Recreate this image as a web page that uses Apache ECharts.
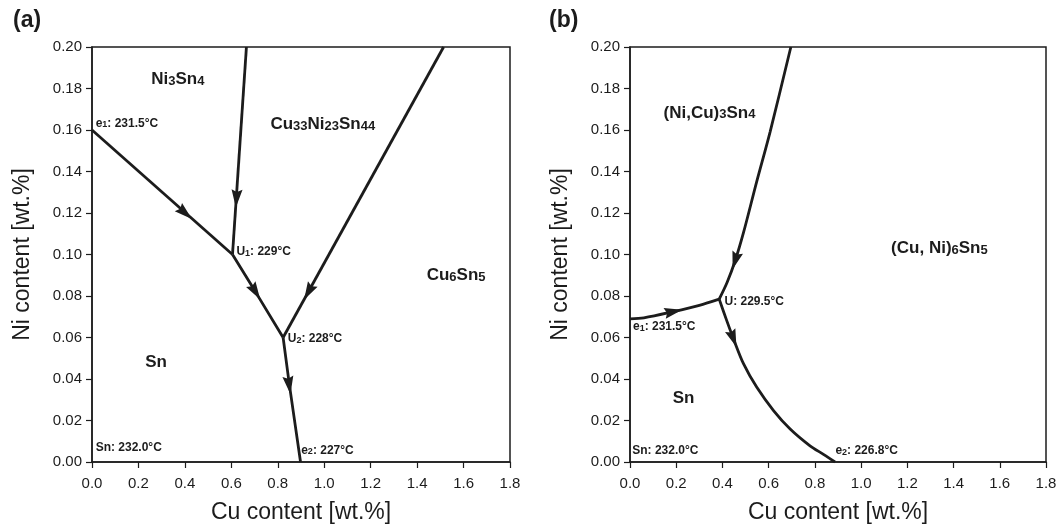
<!DOCTYPE html>
<html><head><meta charset="utf-8">
<script src="https://cdn.jsdelivr.net/npm/echarts@6/dist/echarts.min.js"></script>
<style>html,body{margin:0;padding:0;background:#fff}#c{width:1064px;height:529px}</style>
</head><body><div id="c"></div>
<script>
// ---------- data: panel (a) (x = Cu wt.%, y = Ni wt.%) ----------
const a_e1_U1  = [[0, 0.160], [0.605, 0.100]];
const a_top_U1 = [[0.665, 0.200], [0.605, 0.100]];
const a_U1_U2  = [[0.605, 0.100], [0.704, 0.082], [0.823, 0.060]];
const a_top_U2 = [[1.514, 0.200], [0.823, 0.060]];
const a_U2_e2  = [[0.823, 0.060], [0.849, 0.038], [0.898, 0.000]];
const a_arrows = [[0.401, 0.120], [0.622, 0.127], [0.704, 0.082], [0.932, 0.082], [0.849, 0.037]];
const a_notes = [
  ['Ni{s|3}Sn{s|4}', 0.372, 0.184, 'center', 'big'],
  ['Cu{s|33}Ni{s|23}Sn{s|44}', 0.996, 0.1625, 'center', 'big'],
  ['Cu{s|6}Sn{s|5}', 1.570, 0.0896, 'center', 'big'],
  ['Sn', 0.278, 0.0476, 'center', 'big'],
  ['e{t|1}: 231.5\u00b0C', 0.018, 0.163, 'left', 'small'],
  ['U{t|1}: 229\u00b0C', 0.624, 0.101, 'left', 'small'],
  ['U{t|2}: 228\u00b0C', 0.845, 0.059, 'left', 'small'],
  ['Sn: 232.0\u00b0C', 0.018, 0.0066, 'left', 'small'],
  ['e{t|2}: 227\u00b0C', 0.903, 0.0053, 'left', 'small']
];
// ---------- data: panel (b) ----------
const b_e1_U  = [[0, 0.069], [0.06, 0.0695], [0.188, 0.0725], [0.30, 0.0755], [0.386, 0.0785]];
const b_top_U = [[0.696, 0.200], [0.606, 0.159], [0.548, 0.135], [0.491, 0.1105], [0.455, 0.097], [0.42, 0.0865], [0.386, 0.0785]];
const b_U_e2  = [[0.386, 0.0785], [0.419, 0.0680], [0.450, 0.0587], [0.491, 0.0474], [0.548, 0.0361], [0.621, 0.0248], [0.693, 0.0159], [0.779, 0.0078], [0.837, 0.0037], [0.887, 0]];
const b_arrows = [[0.188, 0.0725], [0.455, 0.097], [0.447, 0.0595]];
const b_notes = [
  ['(Ni,Cu){s|3}Sn{s|4}', 0.346, 0.168, 'center', 'big'],
  ['(Cu, Ni){s|6}Sn{s|5}', 1.341, 0.1027, 'center', 'big'],
  ['Sn', 0.234, 0.0303, 'center', 'big'],
  ['U: 229.5\u00b0C', 0.411, 0.0768, 'left', 'small'],
  ['e{t|1}: 231.5\u00b0C', 0.015, 0.065, 'left', 'small'],
  ['Sn: 232.0\u00b0C', 0.012, 0.0054, 'left', 'small'],
  ['e{t|2}: 226.8\u00b0C', 0.891, 0.0051, 'left', 'small']
];
const xTicks = {min: 0, max: 1.8, interval: 0.2};
const yTicks = {min: 0, max: 0.2, interval: 0.02};
const panelTitles = ['(a)', '(b)'];

// ---------- styling / option ----------
const FONT = 'Liberation Sans, Arial, sans-serif';
const INK = '#1c1c1c';
const curvesA = [a_e1_U1, a_top_U1, a_U1_U2, a_top_U2, a_U2_e2];
const curvesB = [b_e1_U, b_top_U, b_U_e2];

function mkX(g) {
  return {
    gridIndex: g, type: 'value', min: xTicks.min, max: xTicks.max, interval: xTicks.interval,
    name: 'Cu content [wt.%]', nameLocation: 'middle', nameGap: 39,
    nameTextStyle: {fontFamily: FONT, fontSize: 23, color: INK},
    axisLine: {show: true, onZero: false, lineStyle: {color: INK, width: 1.5}},
    axisTick: {show: true, inside: false, length: 6, lineStyle: {color: INK, width: 1.2}},
    axisLabel: {fontFamily: FONT, fontSize: 15, color: INK, margin: 14, formatter: v => v.toFixed(1)},
    splitLine: {show: false}
  };
}
function mkY(g) {
  return {
    gridIndex: g, type: 'value', min: yTicks.min, max: yTicks.max, interval: yTicks.interval,
    name: 'Ni content [wt.%]', nameLocation: 'middle', nameGap: 58, nameRotate: 90,
    nameTextStyle: {fontFamily: FONT, fontSize: 23, color: INK},
    axisLine: {show: true, onZero: false, lineStyle: {color: INK, width: 1.5}},
    axisTick: {show: true, inside: false, length: 6, lineStyle: {color: INK, width: 1.2}},
    axisLabel: {fontFamily: FONT, fontSize: 15, color: INK, margin: 10, formatter: v => v.toFixed(2)},
    splitLine: {show: false}
  };
}
function lineSeries(g, pts, smooth) {
  return {type: 'line', xAxisIndex: g, yAxisIndex: g, data: pts, showSymbol: false, symbol: 'none',
    smooth: smooth ? 0.3 : false, silent: true, z: 3,
    lineStyle: {color: INK, width: 2.8}};
}
const RICH = {
  big: {fontFamily: FONT, fontSize: 17, fontWeight: 'bold', color: INK},
  s: {fontFamily: FONT, fontSize: 13, fontWeight: 'bold', color: INK, verticalAlign: 'bottom', padding: [4, 0, 0, 0]},
  small: {fontFamily: FONT, fontSize: 12, fontWeight: 'bold', color: INK},
  t: {fontFamily: FONT, fontSize: 9, fontWeight: 'bold', color: INK, verticalAlign: 'bottom', padding: [3, 0, 0, 0]}
};
function noteSeries(g, notes) {
  return {type: 'scatter', xAxisIndex: g, yAxisIndex: g, symbolSize: 1, silent: true, z: 5,
    itemStyle: {color: 'rgba(0,0,0,0)', opacity: 1},
    data: notes.map(n => {
      const cls = n[4] === 'big' ? 'big' : 'small';
      const txt = n[0].replace(/(^|\})([^{}]+)(?=\{|$)/g, (m, p, q) => p + '{' + cls + '|' + q + '}');
      return {value: [n[1], n[2]], label: {show: true, position: [0, 0], align: n[3], verticalAlign: 'middle',
        color: INK, opacity: 1, formatter: txt, rich: RICH}};
    })};
}

const chart = echarts.init(document.getElementById('c'), null, {renderer: 'canvas'});
const base = {
  animation: false,
  backgroundColor: '#fff',
  grid: [
    {left: 92, top: 47, width: 418, height: 416, show: true, borderColor: INK, borderWidth: 1.5, backgroundColor: 'transparent'},
    {left: 630, top: 47, width: 416, height: 416, show: true, borderColor: INK, borderWidth: 1.5, backgroundColor: 'transparent'}
  ],
  xAxis: [mkX(0), mkX(1)],
  yAxis: [mkY(0), mkY(1)],
  graphic: [
    {type: 'text', left: 13, top: 9, style: {text: panelTitles[0], font: 'bold 23px ' + FONT, fill: INK}},
    {type: 'text', left: 549, top: 9, style: {text: panelTitles[1], font: 'bold 23px ' + FONT, fill: INK}}
  ],
  series: [
    ...curvesA.map(c => lineSeries(0, c, false)),
    ...curvesB.map(c => lineSeries(1, c, true)),
    noteSeries(0, a_notes),
    noteSeries(1, b_notes)
  ]
};
chart.setOption(base);

// arrowheads oriented along the nearest curve segment (in pixel space)
function arrowData(g, arrows, curves) {
  return arrows.map(p => {
    let best = null, bd = Infinity;
    curves.forEach(c => {
      for (let i = 0; i < c.length - 1; i++) {
        const A = c[i], B = c[i + 1];
        const vx = B[0] - A[0], vy = B[1] - A[1];
        let t = ((p[0] - A[0]) * vx / 3.24 + (p[1] - A[1]) * vy / 0.04) / (vx * vx / 3.24 + vy * vy / 0.04);
        t = Math.max(0, Math.min(1, t));
        const qx = (A[0] + t * vx - p[0]) / 1.8, qy = (A[1] + t * vy - p[1]) / 0.2;
        const d = qx * qx + qy * qy;
        if (d < bd) { bd = d; best = [A, B]; }
      }
    });
    const pa = chart.convertToPixel({gridIndex: g}, best[0]);
    const pb = chart.convertToPixel({gridIndex: g}, best[1]);
    const dx = pb[0] - pa[0], dy = pb[1] - pa[1];
    const rot = Math.atan2(-dx, -dy) * 180 / Math.PI;
    return {value: p, symbolRotate: rot};
  });
}
const ARROW = 'path://M5,0 L10,18 L5,15.5 L0,18 Z';
chart.setOption({series: [
  ...base.series,
  {type: 'scatter', xAxisIndex: 0, yAxisIndex: 0, symbol: ARROW, symbolSize: [11, 18], silent: true, z: 4,
    itemStyle: {color: INK, opacity: 1}, data: arrowData(0, a_arrows, curvesA)},
  {type: 'scatter', xAxisIndex: 1, yAxisIndex: 1, symbol: ARROW, symbolSize: [11, 18], silent: true, z: 4,
    itemStyle: {color: INK, opacity: 1}, data: arrowData(1, b_arrows, curvesB)}
]});
</script></body></html>
